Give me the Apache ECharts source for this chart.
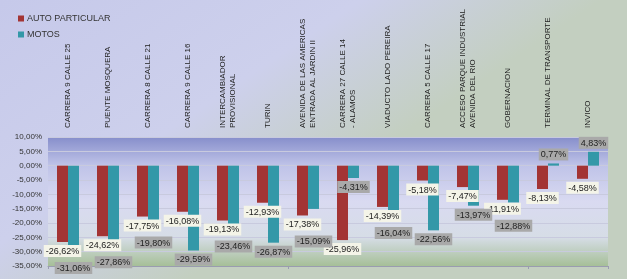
<!DOCTYPE html>
<html>

<head>
    <meta http-equiv="Content-Type" content="text/html; charset=utf-8" />
    <title>variacion</title>
    <style type="text/css">
    body,
    html {
        width: 100%;
        height: 100%;
        margin: 0;
        overflow: hidden;
    }

    #container {
        width: 627px;
        height: 279px;
    }
    </style>
</head>

<body>
    <div id="container"></div>
</body>
<script src="https://cdn.jsdelivr.net/npm/echarts@6/dist/echarts.min.js"></script>
<script>
var categories = [
    'CARRERA 9 CALLE 25',
    'PUENTE MOSQUERA',
    'CARRERA 8 CALLE 21',
    'CARRERA 9 CALLE 16',
    'INTERCAMBIADOR\nPROVISIONAL',
    'TURIN',
    'AVENIDA DE LAS AMERICAS\nENTRADA AL JARDIN II',
    'CARRERA 27 CALLE 14\n- ALAMOS',
    'VIADUCTO LADO PEREIRA',
    'CARRERA 5 CALLE 17',
    'ACCESO PARQUE INDUSTRIAL\nAVENIDA DEL RIO',
    'GOBERNACION',
    'TERMINAL DE TRANSPORTE',
    'INVICO'
];
var autoParticular = [-26.62, -24.62, -17.75, -16.08, -19.13, -12.93, -17.38, -25.96, -14.39, -5.18, -7.47, -11.91, -8.13, -4.58];
var motos = [-31.06, -27.86, -19.80, -29.59, -23.46, -26.87, -15.09, -4.31, -16.04, -22.56, -13.97, -12.88, 0.77, 4.83];
var yTicks = { min: -35, max: 10, step: 5 };

var RED = '#a33434';
var TEAL = '#3398a8';

function pct(v) {
    return v.toFixed(2).replace('.', ',') + '%';
}

var chart = echarts.init(document.getElementById('container'));

var labelBase = {
    show: true,
    distance: 3,
    fontFamily: 'Liberation Sans',
    fontSize: 9,
    color: '#222',
    padding: [2, 2, 1, 2],
    formatter: function(p) { return pct(p.value); }
};

// label goes past the end of the bar, up or down depending on sign.
// shift (px) pushes a label further down when it would sit on the other series' label
function withLabels(values, shift) {
    return values.map(function(v, i) {
        var s = shift ? shift[i] : 0;
        return { value: v, label: { position: v < 0 ? 'bottom' : 'top', offset: [0, s] } };
    });
}

// real bars sit on xAxis 0; a transparent copy on xAxis 1 (same layout)
// carries the labels so every label is drawn above every bar
function barSeries(name, values, color, labelBg, withLabel, shift) {
    return {
        name: name,
        type: 'bar',
        xAxisIndex: withLabel ? 1 : 0,
        z: withLabel ? 10 : 2,
        data: withLabel ? withLabels(values, shift) : values,
        barWidth: 11,
        barGap: '0%',
        silent: withLabel,
        itemStyle: { color: withLabel ? 'rgba(0,0,0,0)' : color },
        label: withLabel ? Object.assign({}, labelBase, { backgroundColor: labelBg }) : { show: false }
    };
}

function buildSeries(shift) {
    return [
        barSeries('AUTO PARTICULAR', autoParticular, RED, '#f4f4e8', false),
        barSeries('MOTOS', motos, TEAL, '#a9a9a9', false),
        barSeries('AUTO PARTICULAR', autoParticular, RED, '#f4f4e8', true),
        barSeries('MOTOS', motos, TEAL, '#a9a9a9', true, shift)
    ];
}

chart.setOption({
    backgroundColor: {
        type: 'linear', x: 0, y: 0, x2: 0.3, y2: 1,
        colorStops: [
            { offset: 0, color: '#c6c9ea' },
            { offset: 0.6, color: '#cdd0ec' },
            { offset: 1, color: '#c3cfc0' }
        ]
    },
    textStyle: { fontFamily: 'Liberation Sans' },
    legend: {
        orient: 'vertical',
        left: 13,
        top: 9,
        itemWidth: 6,
        itemHeight: 6,
        itemGap: 7,
        icon: 'rect',
        textStyle: { fontSize: 9, color: '#333', padding: [0, 0, 0, -2] },
        data: [
            { name: 'AUTO PARTICULAR', itemStyle: { color: RED } },
            { name: 'MOTOS', itemStyle: { color: TEAL } }
        ]
    },
    grid: {
        left: 48,
        right: 19,
        top: 137,
        bottom: 13,
        show: true,
        borderWidth: 0,
        backgroundColor: {
            type: 'linear', x: 0, y: 0, x2: 0, y2: 1,
            colorStops: [
                { offset: 0, color: '#868ecb' },
                { offset: 0.22, color: '#bfc3e8' },
                { offset: 0.5, color: '#d9daf1' },
                { offset: 0.78, color: '#d6dde6' },
                { offset: 1, color: '#a6bf98' }
            ]
        }
    },
    xAxis: [{
        type: 'category',
        position: 'top',
        data: categories,
        axisLine: { show: false },
        axisTick: { show: false },
        axisLabel: {
            interval: 0,
            rotate: 90,
            margin: 9,
            fontSize: 8,
            lineHeight: 10,
            color: '#222'
        }
    }, {
        type: 'category',
        position: 'bottom',
        data: categories,
        axisLine: { onZero: true, lineStyle: { color: '#9a9cb0' } },
        axisTick: { show: true, length: 3, lineStyle: { color: '#9a9cb0' } },
        axisLabel: { show: false }
    }],
    yAxis: {
        type: 'value',
        min: yTicks.min,
        max: yTicks.max,
        interval: yTicks.step,
        axisLine: { show: false },
        axisTick: { show: false },
        splitLine: { lineStyle: { color: '#c8cade' } },
        axisLabel: {
            fontSize: 8,
            color: '#333',
            margin: 6,
            formatter: function(v) { return pct(v); }
        }
    },
    series: buildSeries(null)
});

// where both bars point down and the labels would collide,
// move the MOTOS label below the AUTO label
var y0 = chart.convertToPixel({ yAxisIndex: 0 }, 0);
var shift = motos.map(function(m, i) {
    var a = autoParticular[i];
    if (m >= 0 || a >= 0) return 0;
    var ya = chart.convertToPixel({ yAxisIndex: 0 }, a) - y0;
    var ym = chart.convertToPixel({ yAxisIndex: 0 }, m) - y0;
    if (ym < ya - 16) return 0;
    return Math.max(0, ya + 17 - ym);
});
chart.setOption({ series: buildSeries(shift) });
</script>

</html>
